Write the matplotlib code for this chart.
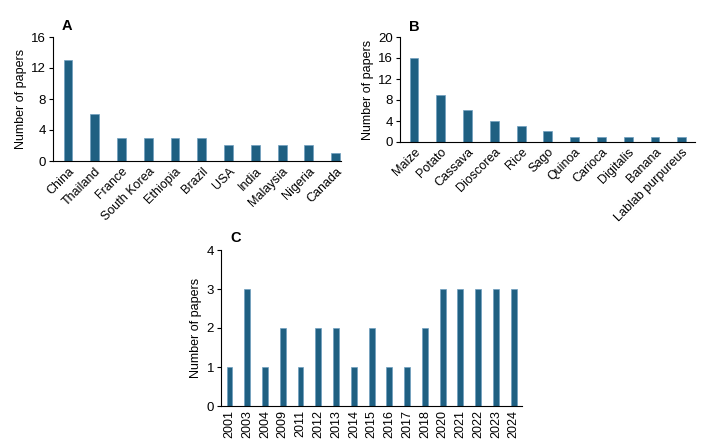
import matplotlib
matplotlib.use('Agg')
import matplotlib.pyplot as plt

plt.rcParams['font.family'] = ['Liberation Sans', 'DejaVu Sans']

countries = ['China', 'Thailand', 'France', 'South Korea', 'Ethiopia', 'Brazil',
             'USA', 'India', 'Malaysia', 'Nigeria', 'Canada']
country_papers = [13, 6, 3, 3, 3, 3, 2, 2, 2, 2, 1]

sources = ['Maize', 'Potato', 'Cassava', 'Dioscorea', 'Rice', 'Sago', 'Quinoa',
           'Carioca', 'Digitalis', 'Banana', 'Lablab purpureus']
source_papers = [16, 9, 6, 4, 3, 2, 1, 1, 1, 1, 1]

years = ['2001', '2003', '2004', '2009', '2011', '2012', '2013', '2014', '2015',
         '2016', '2017', '2018', '2020', '2021', '2022', '2023', '2024']
year_papers = [1, 3, 1, 2, 1, 2, 2, 1, 2, 1, 1, 2, 3, 3, 3, 3, 3]

BAR = '#1f6082'
EDGE = '#6f9fbf'
W, H = 706, 448


def px_axes(fig, left, top, right, bottom):
    return fig.add_axes([left / W, 1 - bottom / H, (right - left) / W, (bottom - top) / H])


def style(ax, labels, values, ymax, step, xlim, rot, letter):
    x = range(len(labels))
    ax.bar(x, values, width=0.33, color=BAR, edgecolor=EDGE, linewidth=0.5)
    ax.set_xlim(*xlim)
    ax.set_ylim(0, ymax)
    ax.set_yticks(range(0, ymax + 1, step))
    ax.set_xticks(list(x))
    if rot == 90:
        ax.set_xticklabels(labels, rotation=90, fontsize=9)
    else:
        ax.set_xticklabels(labels, rotation=rot, ha='right', va='top',
                           rotation_mode='anchor', fontsize=9)
    ax.tick_params(axis='x', length=0, pad=3)
    ax.tick_params(axis='y', length=3, width=0.8, labelsize=9.5, pad=2)
    for s in ['top', 'right']:
        ax.spines[s].set_visible(False)
    for s in ['left', 'bottom']:
        ax.spines[s].set_linewidth(0.8)
    ax.set_ylabel('Number of papers', fontsize=9, labelpad=3)
    ax.text(0.03, 1.03, letter, transform=ax.transAxes, fontsize=10.5,
            fontweight='bold', va='bottom', ha='left')


fig = plt.figure(figsize=(W / 100, H / 100), dpi=100)

ax_a = px_axes(fig, 53, 37, 341, 161)
style(ax_a, countries, country_papers, 16, 4, (-0.56, 10.2), 45, 'A')

ax_b = px_axes(fig, 400, 37, 695, 142)
style(ax_b, sources, source_papers, 20, 4, (-0.52, 10.49), 45, 'B')

ax_c = px_axes(fig, 221, 250, 522, 406)
style(ax_c, years, year_papers, 4, 1, (-0.48, 16.47), 90, 'C')

fig.savefig('out.png', dpi=100)
